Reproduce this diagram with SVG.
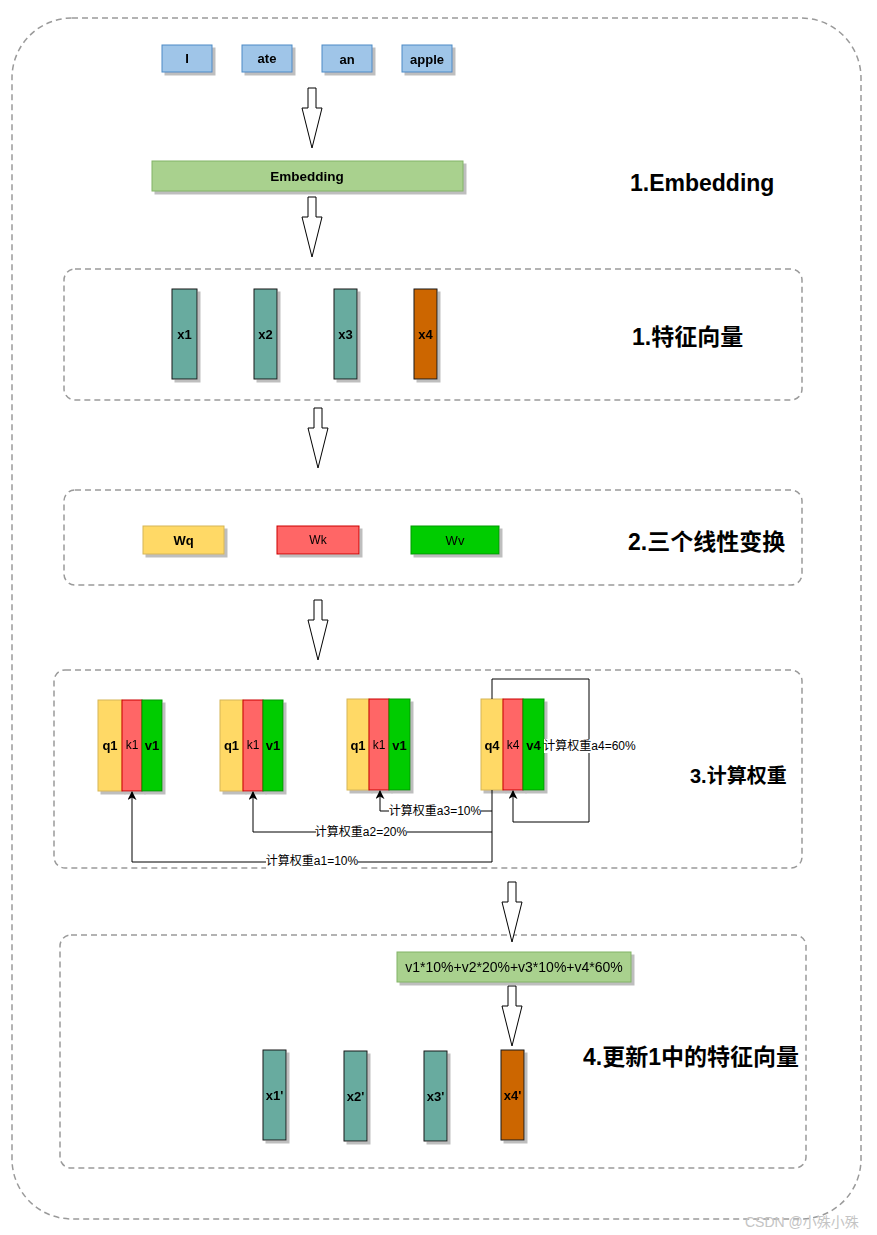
<svg xmlns="http://www.w3.org/2000/svg" width="877" height="1235" viewBox="0 0 877 1235">
<style>
.frame{fill:none;stroke:#9a9a9a;stroke-width:1.5;stroke-dasharray:6 4}
.t{font-family:"Liberation Sans",Arial,"Noto Sans CJK SC",sans-serif;fill:#000;text-anchor:middle;dominant-baseline:central}
.b{font-weight:bold}
.title{font-family:"Liberation Sans",Arial,"Noto Sans CJK SC",sans-serif;font-weight:bold;font-size:23px;fill:#000;dominant-baseline:central}
.word{fill:#9fc5e8;stroke:#4a8ac6;stroke-width:1}
.emb{fill:#a9d18e;stroke:#82b366;stroke-width:1}
.teal{fill:#67ab9f;stroke:#1a1a1a;stroke-width:1}
.orange{fill:#cc6600;stroke:#1a1a1a;stroke-width:1}
.q{fill:#ffd966;stroke:#d6b656;stroke-width:1}
.k{fill:#ff6666;stroke:#cc0000;stroke-width:1}
.v{fill:#00cc00;stroke:#009900;stroke-width:1}
.blk{fill:#fff;stroke:#000;stroke-width:1}
.edge{fill:none;stroke:#000;stroke-width:1}
.lbl{font-family:"Liberation Sans",Arial,"Noto Sans CJK SC",sans-serif;font-size:12px;fill:#000;text-anchor:middle;dominant-baseline:central}
</style>
<defs>
<filter id="sh" x="-20%" y="-20%" width="150%" height="150%">
<feDropShadow dx="3" dy="3" stdDeviation="0.6" flood-color="#888" flood-opacity="0.55"/>
</filter>
<path id="barrow" class="blk" d="M-4,0 H4 V20 H10 L0,60 L-10,20 H-4 Z"/>
<marker id="ah" viewBox="0 0 10 10" refX="9" refY="5" markerWidth="9" markerHeight="9" orient="auto" markerUnits="userSpaceOnUse">
<path d="M0,0 L10,5 L0,10 L3,5 Z" fill="#000"/>
</marker>
</defs>
<rect width="877" height="1235" fill="#fff"/>

<g id="outer"><rect class="frame" x="12" y="18" width="849" height="1201" rx="60" ry="60"/></g>
<g id="sec1"><rect class="frame" x="64" y="269" width="738" height="131" rx="11"/></g>
<g id="sec2"><rect class="frame" x="64" y="490" width="738" height="95" rx="11"/></g>
<g id="sec3"><rect class="frame" x="54" y="670" width="748" height="198" rx="11"/></g>
<g id="sec4"><rect class="frame" x="60" y="935" width="746" height="233" rx="11"/></g>

<g id="w-I" filter="url(#sh)"><rect class="word" x="162" y="45" width="50" height="27"/><text class="t b" font-size="13" x="187" y="58">I</text></g>
<g id="w-ate" filter="url(#sh)"><rect class="word" x="242" y="45" width="50" height="27"/><text class="t b" font-size="13" x="267" y="58">ate</text></g>
<g id="w-an" filter="url(#sh)"><rect class="word" x="322" y="45" width="50" height="27"/><text class="t b" font-size="13" x="347" y="59">an</text></g>
<g id="w-apple" filter="url(#sh)"><rect class="word" x="402" y="45" width="50" height="27"/><text class="t b" font-size="13" x="427" y="59">apple</text></g>

<g id="embedding" filter="url(#sh)"><rect class="emb" x="152" y="161" width="311" height="30"/><text class="t b" font-size="13.5" x="307" y="176">Embedding</text></g>

<g id="arrows">
<use href="#barrow" x="312" y="88"/>
<use href="#barrow" x="312" y="197"/>
<use href="#barrow" x="318" y="408"/>
<use href="#barrow" x="318" y="600"/>
<use href="#barrow" x="512" y="882"/>
<use href="#barrow" x="512" y="986"/>
</g>

<g id="titles">
<text class="title" x="630" y="183">1.Embedding</text>
<text class="title" x="632" y="337">1.特征向量</text>
<text class="title" x="628" y="542">2.三个线性变换</text>
<text class="title" x="690" y="776" style="font-size:20px">3.计算权重</text>
<text class="title" x="583" y="1057">4.更新1中的特征向量</text>
</g>

<g id="x1" filter="url(#sh)"><rect class="teal" x="172" y="289" width="25" height="90"/><text class="t b" font-size="13" x="184.5" y="334">x1</text></g>
<g id="x2" filter="url(#sh)"><rect class="teal" x="254" y="289" width="23" height="90"/><text class="t b" font-size="13" x="265.5" y="334">x2</text></g>
<g id="x3" filter="url(#sh)"><rect class="teal" x="334" y="289" width="23" height="90"/><text class="t b" font-size="13" x="345.5" y="334">x3</text></g>
<g id="x4" filter="url(#sh)"><rect class="orange" x="414" y="289" width="23" height="90"/><text class="t b" font-size="13" x="425.5" y="334">x4</text></g>

<g id="Wq" filter="url(#sh)"><rect class="q" x="143" y="526" width="81" height="28"/><text class="t b" font-size="13" x="183.5" y="540">Wq</text></g>
<g id="Wk" filter="url(#sh)"><rect class="k" x="277" y="526" width="82" height="28"/><text class="t" font-size="12" x="318" y="540">Wk</text></g>
<g id="Wv" filter="url(#sh)"><rect class="v" x="411" y="526" width="88" height="28"/><text class="t" font-size="13" x="455" y="540">Wv</text></g>

<g id="qkv1" filter="url(#sh)">
<rect class="q" x="98" y="700" width="24" height="91"/><rect class="k" x="122" y="700" width="20" height="91"/><rect class="v" x="142" y="700" width="20" height="91"/>
<text class="t b" font-size="13" x="110" y="745">q1</text><text class="t" font-size="12" x="132" y="745">k1</text><text class="t b" font-size="13" x="152" y="745">v1</text>
</g>
<g id="qkv2" filter="url(#sh)">
<rect class="q" x="220" y="700" width="23" height="91"/><rect class="k" x="243" y="700" width="20" height="91"/><rect class="v" x="263" y="700" width="20" height="91"/>
<text class="t b" font-size="13" x="231.5" y="745">q1</text><text class="t" font-size="12" x="253" y="745">k1</text><text class="t b" font-size="13" x="273" y="745">v1</text>
</g>
<g id="qkv3" filter="url(#sh)">
<rect class="q" x="347" y="699" width="22" height="91"/><rect class="k" x="369" y="699" width="20" height="91"/><rect class="v" x="389" y="699" width="21" height="91"/>
<text class="t b" font-size="13" x="358" y="745">q1</text><text class="t" font-size="12" x="379" y="745">k1</text><text class="t b" font-size="13" x="399.5" y="745">v1</text>
</g>
<g id="qkv4" filter="url(#sh)">
<rect class="q" x="481" y="699" width="22" height="91"/><rect class="k" x="503" y="699" width="20" height="91"/><rect class="v" x="523" y="699" width="21" height="91"/>
<text class="t b" font-size="13" x="492" y="745">q4</text><text class="t" font-size="12" x="513" y="745">k4</text><text class="t b" font-size="13" x="533.5" y="745">v4</text>
</g>

<g id="connectors">
<path class="edge" d="M492,790 V862 H132 V792" marker-end="url(#ah)"/>
<path class="edge" d="M492,832 H253 V792" marker-end="url(#ah)"/>
<path class="edge" d="M492,811 H380 V791" marker-end="url(#ah)"/>
<path class="edge" d="M492,699 V679 H589 V822 H513 V791" marker-end="url(#ah)"/>
<rect x="266" y="855" width="92" height="14" fill="#fff"/>
<text class="lbl" x="312" y="861">计算权重a1=10%</text>
<rect x="316" y="825" width="91" height="14" fill="#fff"/>
<text class="lbl" x="361" y="832">计算权重a2=20%</text>
<rect x="389" y="804" width="92" height="14" fill="#fff"/>
<text class="lbl" x="435" y="811">计算权重a3=10%</text>
<rect x="544" y="739" width="91" height="14" fill="#fff"/>
<text class="lbl" x="589.5" y="746">计算权重a4=60%</text>
</g>

<g id="formula" filter="url(#sh)"><rect class="emb" x="397" y="952" width="234" height="30"/><text class="t" font-size="14" x="514" y="967">v1*10%+v2*20%+v3*10%+v4*60%</text></g>

<g id="x1p" filter="url(#sh)"><rect class="teal" x="263" y="1050" width="23" height="90"/><text class="t b" font-size="13" x="274.5" y="1095">x1'</text></g>
<g id="x2p" filter="url(#sh)"><rect class="teal" x="344" y="1051" width="23" height="90"/><text class="t b" font-size="13" x="355.5" y="1096">x2'</text></g>
<g id="x3p" filter="url(#sh)"><rect class="teal" x="424" y="1051" width="23" height="90"/><text class="t b" font-size="13" x="435.5" y="1096">x3'</text></g>
<g id="x4p" filter="url(#sh)"><rect class="orange" x="501" y="1050" width="23" height="90"/><text class="t b" font-size="13" x="512.5" y="1095">x4'</text></g>

<g id="watermark"><text x="745" y="1222" font-family="'Liberation Sans','Noto Sans CJK SC',sans-serif" font-size="14" fill="#c4c4c4" dominant-baseline="central">CSDN @小殊小殊</text></g>
</svg>
